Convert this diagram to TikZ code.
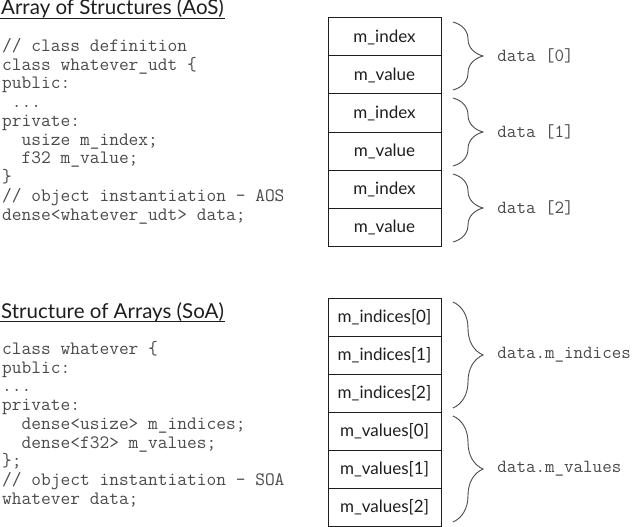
\documentclass[tikz,border=0pt]{standalone}
\usepackage{fontspec}
\setmainfont{Lato}
\usetikzlibrary{calc,decorations.pathreplacing,positioning}
\definecolor{ink}{HTML}{1E1E1E}
\definecolor{codegray}{HTML}{4A4A4A}
\definecolor{frame}{HTML}{333333}

\begin{document}
\begin{tikzpicture}[x=1pt,y=-1pt,
  title/.style={anchor=base west,inner sep=0pt,ink,
               font=\fontsize{20.5}{24}\selectfont},
  codeblk/.style={anchor=north west,inner sep=0pt,align=left,codegray,
               font=\ttfamily\fontsize{18.9}{18.75}\selectfont},
  cell/.style={draw=frame,line width=1pt,minimum width=113pt,minimum height=38pt,
               inner sep=0pt,outer sep=0pt,ink,font=\fontsize{17}{20}\selectfont},
  grp/.style={decorate,decoration={brace,amplitude=30pt},codegray,line width=.9pt},
  lab/.style={anchor=west,inner sep=0pt,codegray,
               font=\ttfamily\fontsize{18.5}{20}\selectfont}
]
\useasboundingbox (0,0) rectangle (635,527);

% array of structures
\node[title] (aostitle) at (1,15) {Array of Structures (AoS)};
\draw[ink,line width=1.3pt] ($(aostitle.base west)+(-1,3.8)$) -- ($(aostitle.base east)+(1,3.8)$);
\node[codeblk] (aoscode) at (2,38) {// class definition\\
class whatever\_udt \{\\
public:\\
\ ...\\
private:\\
\ \ usize m\_index;\\
\ \ f32 m\_value;\\
\}\\
// object instantiation - AOS\\
dense<whatever\_udt> data;};

\node[cell] (a0) at (384.5,37) {m\_index};
\node[cell,below=0pt of a0] (a1) {m\_value};
\node[cell,below=0pt of a1] (a2) {m\_index};
\node[cell,below=0pt of a2] (a3) {m\_value};
\node[cell,below=0pt of a3] (a4) {m\_index};
\node[cell,below=0pt of a4] (a5) {m\_value};

\foreach \i/\j/\k in {0/1/0,2/3/1,4/5/2}{
  \draw[grp] ($(a\i.north east)+(12,4)$) -- ($(a\j.south east)+(12,-4)$)
    node[lab,midway,right=44pt] {data [\k]};
}

% structure of arrays
\node[title] (soatitle) at (1,318) {Structure of Arrays (SoA)};
\draw[ink,line width=1.3pt] ($(soatitle.base west)+(-1,3.8)$) -- ($(soatitle.base east)+(1,3.8)$);
\node[codeblk] (soacode) at (2,341) {class whatever \{\\
public:\\
...\\
private:\\
\ \ dense<usize> m\_indices;\\
\ \ dense<f32> m\_values;\\
\};\\
// object instantiation - SOA\\
whatever data;};

\node[cell] (s0) at (384.5,317) {m\_indices[0]};
\node[cell,below=0pt of s0] (s1) {m\_indices[1]};
\node[cell,below=0pt of s1] (s2) {m\_indices[2]};
\node[cell,below=0pt of s2] (s3) {m\_values[0]};
\node[cell,below=0pt of s3] (s4) {m\_values[1]};
\node[cell,below=0pt of s4] (s5) {m\_values[2]};

\draw[grp] ($(s0.north east)+(12,4)$) -- ($(s2.south east)+(12,-4)$)
  node[lab,midway,right=44pt] {data.m\_indices};
\draw[grp] ($(s3.north east)+(12,4)$) -- ($(s5.south east)+(12,-4)$)
  node[lab,midway,right=44pt] {data.m\_values};
\end{tikzpicture}
\end{document}
